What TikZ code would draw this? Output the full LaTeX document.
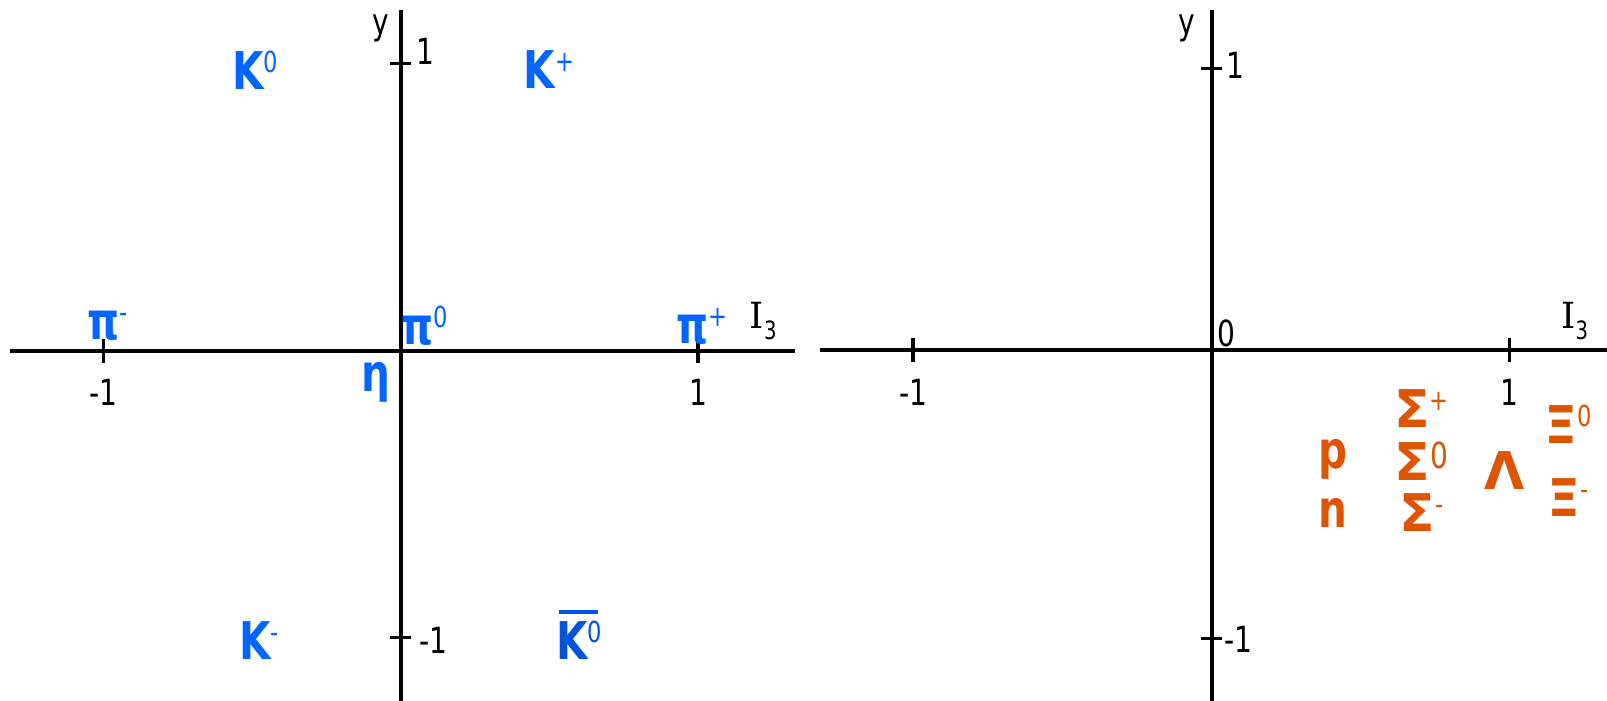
\documentclass[tikz,border=0pt]{standalone}
\usepackage{fontspec}
\setmainfont[FakeStretch=0.78]{DejaVu Sans}
\newfontfamily\grk{DejaVu Sans}
\newfontfamily\serI{DejaVu Serif}
\definecolor{mblue}{RGB}{0,102,255}
\definecolor{kbar}{RGB}{0,85,220}
\definecolor{borange}{RGB}{221,85,0}
\newcommand{\sps}[1]{\raisebox{17pt}{\fontsize{29}{29}\selectfont\mdseries #1}}
\newcommand{\spsb}[1]{\raisebox{12pt}{\fontsize{36}{36}\selectfont\mdseries #1}}
\newcommand{\Ithree}{{\serI I}\textsubscript{3}}
\tikzset{
  axisline/.style={line width=4pt},
  tickline/.style={line width=3.5pt},
  lab/.style={inner sep=0pt, font=\fontsize{36}{36}\selectfont},
  mes/.style={inner sep=0pt, text=mblue, font=\fontsize{52}{52}\selectfont\bfseries},
  bar/.style={inner sep=0pt, text=borange, font=\fontsize{52}{52}\selectfont\bfseries},
}
\begin{document}
\begin{tikzpicture}[x=1pt,y=1pt]
\useasboundingbox (0,0) rectangle (1607,-701);
% ---- left diagram ----
\coordinate (LHa) at (10,-350.5);
\coordinate (LHb) at (795,-350.5);
\coordinate (LVa) at (400.7,-10);
\coordinate (LVb) at (400.7,-701);
\draw[axisline] (LHa) -- (LHb);
\draw[axisline] (LVa) -- (LVb);
\draw[tickline] (103.5,-338.5) -- (103.5,-362.5);
\draw[tickline] (698,-338.5) -- (698,-362.5);
\draw[tickline] (390,-63.5) -- (411,-63.5);
\draw[tickline] (390,-637.5) -- (411,-637.5);
\node[lab] (ly) at (381,-28) {y};
\node[lab] (ly1) at (425,-51) {1};
\node[lab] (lym1) at (433,-640) {-1};
\node[lab] (lxm1) at (103.5,-392.5) {-1};
\node[lab] (lx1) at (698,-392.5) {1};
\node[lab] (lI) at (763.5,-321) {\Ithree};
\node[mes] (k0) at (255,-70) {K\sps{0}};
\node[mes] (kp) at (549,-70) {K\sps{+}};
\node[mes] (pim) at (107.6,-326) {π\sps{-}};
\node[mes] (pi0) at (425,-326) {π\sps{0}};
\node[mes] (pip) at (702,-326) {π\sps{+}};
\node[mes] (eta) at (376,-382) {η};
\node[mes] (km) at (259,-640.6) {K\sps{-}};
\node[mes, text=kbar] (kb) at (579,-640) {K\sps{0}};
\draw[kbar, line width=4.5pt] (558.6,-612) -- (597.5,-612);
% ---- right diagram ----
\coordinate (RHa) at (820,-349.5);
\coordinate (RHb) at (1607,-349.5);
\coordinate (RVa) at (1211.5,-10);
\coordinate (RVb) at (1211.5,-701);
\draw[axisline] (RHa) -- (RHb);
\draw[axisline] (RVa) -- (RVb);
\draw[tickline] (913,-337.5) -- (913,-361.5);
\draw[tickline] (1509.7,-337.5) -- (1509.7,-361.5);
\draw[tickline] (1201,-68.7) -- (1222,-68.7);
\draw[tickline] (1201,-638.5) -- (1222,-638.5);
\node[lab] (ry) at (1187,-28) {y};
\node[lab] (ry1) at (1235,-65.6) {1};
\node[lab] (rym1) at (1238,-639.5) {-1};
\node[lab] (r0) at (1226,-333) {0};
\node[lab] (rxm1) at (913,-392.5) {-1};
\node[lab] (rx1) at (1509.7,-392.5) {1};
\node[lab] (rI) at (1575,-321) {\Ithree};
\node[bar] (p) at (1333,-459) {p};
\node[bar] (n) at (1333,-512.5) {n};
\node[bar] (sp) at (1421.5,-409) {{\grk Σ}\sps{+}};
\node[bar] (s0) at (1421.5,-461) {{\grk Σ}\spsb{0}};
\node[bar] (sm) at (1421.5,-512.5) {{\grk Σ}\sps{-}};
\node[bar] (lam) at (1504.6,-471) {{\grk Λ}};
\node[bar] (x0) at (1568,-424) {{\grk Ξ}\sps{0}};
\node[bar] (xm) at (1568,-498) {{\grk Ξ}\sps{-}};
\end{tikzpicture}
\end{document}
